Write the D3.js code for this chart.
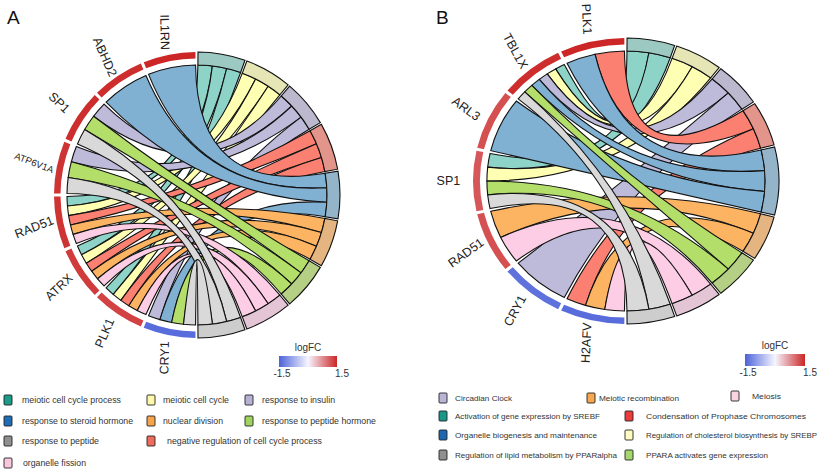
<!DOCTYPE html>
<html>
<head>
<meta charset="utf-8">
<script src="https://cdn.jsdelivr.net/npm/d3@7"></script>
<style>
  body { margin: 0; background: #fff; }
  svg { display: block; font-family: Arial, "Liberation Sans", sans-serif; }
</style>
</head>
<body>
<svg id="chart" width="825" height="475"></svg>
<script>
// ── panel A data ────────────────────────────────────────────────────────────
const genesA = ['IL1RN', 'ABHD2', 'SP1', 'ATP6V1A', 'RAD51', 'ATRX', 'PLK1', 'CRY1'];
const logfcA = [1.5, 1.45, 1.45, 1.4, 1.4, 1.35, 1.3, -1.4];
const termsA = [
  'meiotic cell cycle process', 'meiotic cell cycle', 'response to insulin',
  'negative regulation of cell cycle process', 'response to steroid hormone',
  'nuclear division', 'response to peptide hormone', 'organelle fission', 'response to peptide'
];
// gene x term membership (rows follow genesA, columns follow termsA)
const matrixA = [
  [0, 0, 0, 0, 1, 0, 0, 0, 0],
  [0, 0, 0, 0, 1, 0, 0, 0, 0],
  [0, 0, 1, 0, 0, 0, 1, 0, 1],
  [0, 0, 1, 0, 0, 0, 1, 0, 1],
  [1, 1, 0, 1, 0, 1, 0, 1, 0],
  [1, 1, 0, 1, 0, 1, 0, 1, 0],
  [1, 1, 0, 1, 0, 1, 0, 1, 0],
  [0, 0, 1, 0, 1, 0, 1, 0, 1]
];

// ── panel B data ────────────────────────────────────────────────────────────
const genesB = ['PLK1', 'TBL1X', 'ARL3', 'SP1', 'RAD51', 'CRY1', 'H2AFV'];
const logfcB = [1.5, 1.45, 1.2, 1.15, 1.2, -1.35, -1.4];
const termsB = [
  'Activation of gene expression by SREBF', 'Regulation of cholesterol biosynthesis by SREBP',
  'Circadian Clock', 'Condensation of Prophase Chromosomes', 'Organelle biogenesis and maintenance',
  'Meiotic recombination', 'PPARA activates gene expression', 'Meiosis',
  'Regulation of lipid metabolism by PPARalpha'
];
const matrixB = [
  [0, 0, 0, 1, 1, 0, 0, 0, 0],
  [1, 1, 1, 0, 1, 0, 1, 0, 1],
  [0, 0, 0, 0, 1, 0, 0, 0, 0],
  [1, 1, 0, 0, 0, 0, 1, 0, 1],
  [0, 0, 0, 0, 0, 1, 0, 1, 0],
  [0, 0, 1, 0, 0, 0, 0, 0, 0],
  [0, 0, 0, 1, 0, 1, 0, 1, 0]
];

const lfcTicks = [-1.5, 1.5];

// ── colours ─────────────────────────────────────────────────────────────────
const ribbonCols = ['#8DD3C7', '#FFFFB3', '#BEBADA', '#FB8072', '#80B1D3', '#FDB462', '#B3DE69', '#FCCDE5', '#D9D9D9'];
const legendColsA = ['#1b9c8b', '#fff7aa', '#b7b1d6', '#ee6b5d', '#1f6db4', '#f5a44c', '#9fd45f', '#f9c8dc', '#8f8f8f'];
const legendColsB = ['#16978a', '#fffbc0', '#b9b5d6', '#ec3b3b', '#1e66b0', '#f6a74f', '#a5d76c', '#fad2e2', '#909090'];
const lfcColor = d3.scaleLinear().domain([-1.5, 0, 1.5]).range(['#4d62d8', '#f6f6ff', '#cc2626']).clamp(true);

// legend slots in term order: [boxX, textX, rowY, textWidth]
const legendSlotsA = [
  [4, 22, 400, 99], [147, 163, 400, 66], [245, 262, 400, 73], [147, 167, 441, 155], [4, 22, 421, 111],
  [147, 163, 421, 60], [245, 262, 421, 114], [4, 23, 463, 63], [4, 22, 441, 77]
];
const legendSlotsB = [
  [439, 455, 416, 145], [625, 646, 435, 171], [439, 455, 398, 57], [625, 646, 416, 160], [439, 455, 435, 142],
  [587, 599, 398, 80], [625, 646, 455, 122], [731, 752, 396, 29], [439, 455, 455, 162]
];

const svg = d3.select('#chart');

const R_IN = 130;     // ribbon ends / inner edge of term band
const R_GENE = 136.5; // inner edge of gene band
const R_OUT = 143;    // outer edge of both bands

function buildChord(cfg) {
  const { genes, logfc, terms, matrix, cx, cy, sx } = cfg;
  const N = genes.length;
  const M = terms.length;
  const nrib = terms.map((t, j) => d3.sum(matrix, (row) => row[j]));
  const ngen = matrix.map((row) => d3.sum(row));
  const total = d3.sum(nrib);
  const gPad = 0.011;
  const tPad = 0.007;

  const g = svg.append('g').attr('transform', `translate(${cx},${cy}) scale(${sx},1)`);

  // term segments (right half, clockwise from top)
  let cum = 0;
  const tSeg = nrib.map((n) => {
    const s = Math.PI * cum / total;
    cum += n;
    return [s + tPad, Math.PI * cum / total - tPad];
  });
  // gene segments (left half, counter-clockwise from top)
  const gSeg = genes.map((d, i) => [-(i * Math.PI / N) - gPad, -((i + 1) * Math.PI / N) + gPad]);

  const ribbon = d3.ribbon().radius(R_IN);
  const ribbons = g.append('g');
  for (let t = 0; t < M; t++) {
    let k = 0;
    const [ts, te] = tSeg[t];
    for (let i = 0; i < N; i++) {
      if (!matrix[i][t]) continue;
      const a0 = ts + (te - ts) * k / nrib[t];
      const a1 = ts + (te - ts) * (k + 1) / nrib[t];
      k++;
      const rank = matrix[i].slice(0, t).filter((v) => v).length;
      const [gs, ge] = gSeg[i];
      const b0 = gs + (ge - gs) * rank / ngen[i];
      const b1 = gs + (ge - gs) * (rank + 1) / ngen[i];
      ribbons.append('path')
        .attr('d', ribbon({
          source: { startAngle: b1, endAngle: b0 },
          target: { startAngle: a0, endAngle: a1 }
        }))
        .attr('fill', ribbonCols[t])
        .attr('stroke', '#111')
        .attr('stroke-width', 1.1)
        .attr('vector-effect', 'non-scaling-stroke');
    }
  }

  const bandCol = (c) => d3.interpolateRgb('#b8b8b8', c)(0.64);
  g.append('g').selectAll('path').data(tSeg).join('path')
    .attr('d', (d) => d3.arc()({ innerRadius: R_IN, outerRadius: R_OUT, startAngle: d[0], endAngle: d[1] }))
    .attr('fill', (d, i) => bandCol(ribbonCols[i]))
    .attr('stroke', '#111')
    .attr('stroke-width', 1.1)
    .attr('vector-effect', 'non-scaling-stroke');

  g.append('g').selectAll('path').data(gSeg).join('path')
    .attr('d', (d) => d3.arc()({ innerRadius: R_GENE, outerRadius: R_OUT, startAngle: d[1], endAngle: d[0] }))
    .attr('fill', (d, i) => lfcColor(logfc[i]));

  // gene labels: radial, tipped ~10° further away from horizontal
  const rl = 166;
  genes.forEach((name, i) => {
    const th = -(i + 0.5) * Math.PI / N;
    const x = cx + sx * rl * Math.sin(th);
    const y = cy - rl * Math.cos(th);
    const radial = 90 + th * 180 / Math.PI;
    const rot = Math.abs(radial) < 1 ? 0 : radial + 10 * Math.sign(radial);
    svg.append('text')
      .attr('transform', `translate(${x},${y}) rotate(${rot})`)
      .attr('text-anchor', 'middle')
      .attr('dominant-baseline', 'central')
      .attr('font-size', name.length > 6 ? '9.5px' : '12.5px')
      .attr('fill', '#222')
      .text(name);
  });
}

function buildColorbar(x, y, w, h, id) {
  const grad = svg.append('defs').append('linearGradient').attr('id', id);
  d3.range(0, 1.0001, 0.1).forEach((p) => {
    grad.append('stop').attr('offset', p).attr('stop-color', lfcColor(-1.5 + 3 * p));
  });
  svg.append('rect').attr('x', x).attr('y', y).attr('width', w).attr('height', h).attr('fill', `url(#${id})`);
  svg.append('text').attr('x', x + w / 2).attr('y', y - 5).attr('text-anchor', 'middle')
    .attr('font-size', '10px').attr('fill', '#333').text('logFC');
  const sc = d3.scaleLinear().domain([-1.5, 1.5]).range([x + 3, x + w + 5]);
  lfcTicks.forEach((v) => {
    svg.append('text').attr('x', sc(v)).attr('y', y + h + 10).attr('text-anchor', 'middle')
      .attr('font-size', '10px').attr('fill', '#333').text(v);
  });
}

function buildLegend(terms, cols, slots, fs) {
  terms.forEach((t, i) => {
    const [bx, tx, ry, tw] = slots[i];
    svg.append('rect').attr('x', bx).attr('y', ry - 5).attr('width', 8).attr('height', 10)
      .attr('fill', cols[i]).attr('stroke', '#222').attr('stroke-width', 0.9).attr('rx', 1);
    svg.append('text').attr('x', tx).attr('y', ry).attr('dominant-baseline', 'central')
      .attr('font-size', fs).attr('fill', '#333')
      .attr('textLength', tw).attr('lengthAdjust', 'spacingAndGlyphs')
      .text(t);
  });
}

buildChord({ genes: genesA, logfc: logfcA, terms: termsA, matrix: matrixA, cx: 197, cy: 195, sx: 1 });
buildChord({ genes: genesB, logfc: logfcB, terms: termsB, matrix: matrixB, cx: 626, cy: 181, sx: 1.07 });

buildColorbar(279, 356, 58, 11, 'gradA');
buildColorbar(745, 354, 60, 12, 'gradB');

buildLegend(termsA, legendColsA, legendSlotsA, '9px');
buildLegend(termsB, legendColsB, legendSlotsB, '7.8px');

svg.append('text').attr('x', 7).attr('y', 24).attr('font-size', '19px').attr('fill', '#111').text('A');
svg.append('text').attr('x', 436).attr('y', 24).attr('font-size', '19px').attr('fill', '#111').text('B');
</script>
</body>
</html>
